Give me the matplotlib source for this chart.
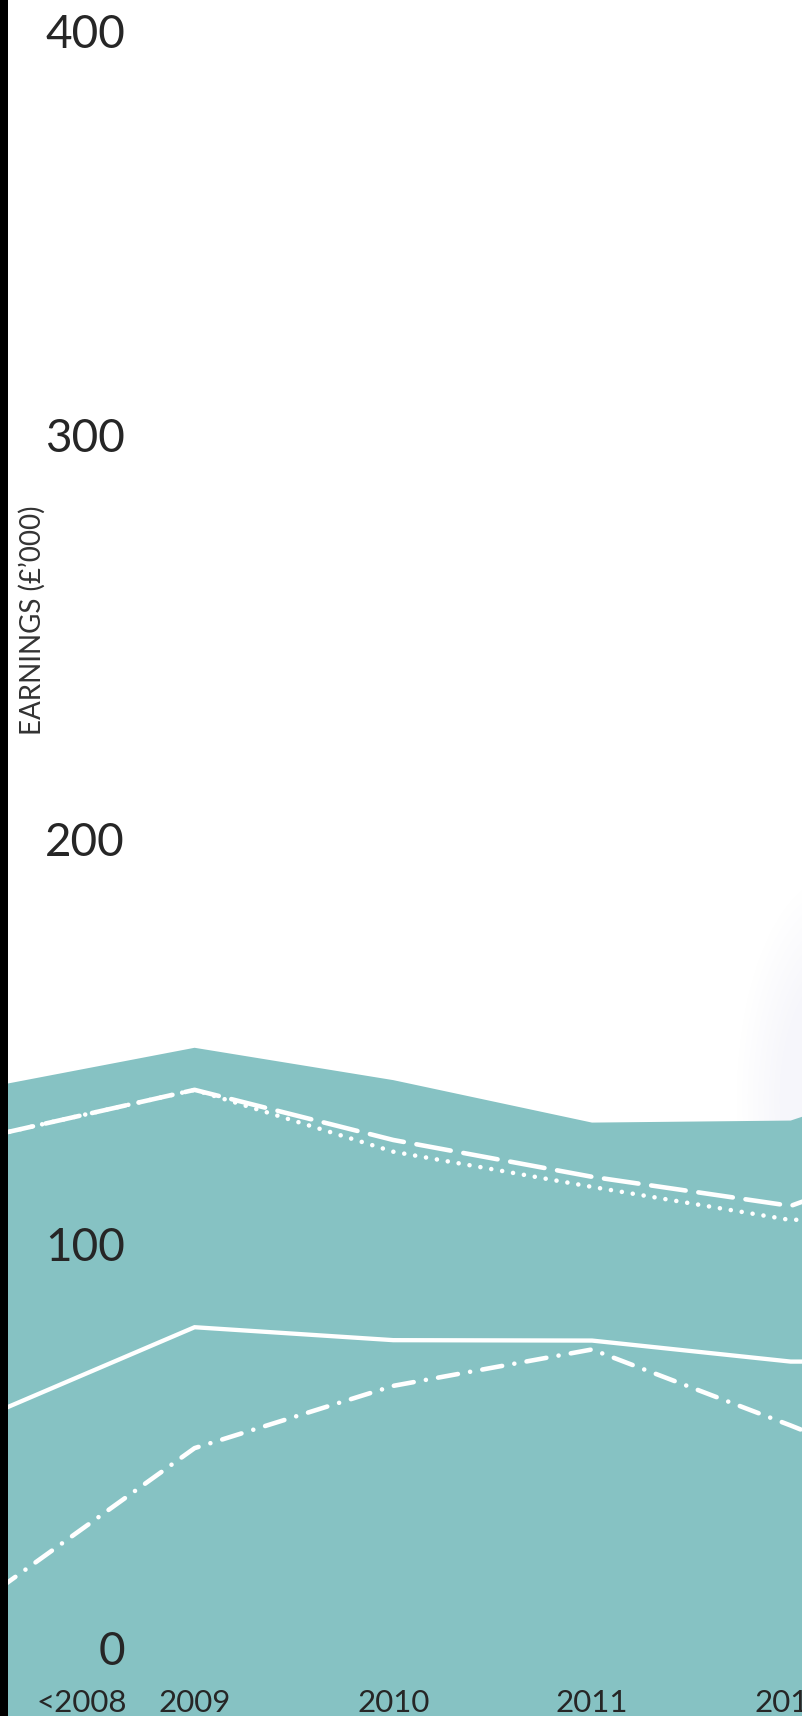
import matplotlib.pyplot as plt
import numpy as np
from matplotlib import transforms

# values (£'000)
years = [2008, 2009, 2010, 2011, 2012, 2013]
year_labels = ['<2008', '2009', '2010', '2011', '2012']
total = [138.9, 148.3, 140.3, 129.8, 130.3, 146.7]
dashed = [126.8, 137.9, 125.5, 116.4, 109.2, 127.0]
dotted = [126.8, 137.9, 122.6, 113.9, 105.7, 108.0]
solid = [58.2, 79.2, 76.0, 75.9, 70.7, 70.7]
dashdot = [14.0, 49.3, 64.7, 73.7, 54.9, 35.2]
yticks = [0, 100, 200, 300, 400]

teal = '#86c2c3'
txt = '#262626'
plt.rcParams['font.family'] = ['Lato', 'DejaVu Sans']

fig = plt.figure(figsize=(8.02, 17.16), dpi=100)
fig.patch.set_facecolor('black')
ax = fig.add_axes([8 / 802, 0, 794 / 802, 1])
ax.set_facecolor('white')
for s in ax.spines.values():
    s.set_visible(False)
ax.set_xticks([])
ax.set_yticks([])

ax.set_xlim(2008.061, 2012.057)
ax.set_ylim(-16.94, 407.4)

# very faint shadow on the right
gx = np.linspace(0, 1, 120)
gy = np.linspace(0, 1, 200)
GX, GY = np.meshgrid(gx, gy)
d = np.sqrt(((GX - 1.3) / 0.8) ** 2 + ((GY - 0.85) / 0.8) ** 2)
alpha = np.clip(1 - d, 0, 1)
img = np.zeros((200, 120, 4))
img[..., 0] = 0.945
img[..., 1] = 0.945
img[..., 2] = 0.975
img[..., 3] = np.clip(alpha * 1.3, 0, 0.55)
ax.imshow(img, extent=[2011.4, 2012.057, 125, 195], origin='upper',
          aspect='auto', zorder=0, interpolation='bilinear')

ax.fill_between(years, total, -20, color=teal, lw=0, zorder=1)

ax.plot(years, solid, color='white', lw=3.1, solid_joinstyle='miter', zorder=3)
ax.plot(years, dashed, color='white', lw=3.3, linestyle=(0, (7.6, 2.8)),
        dash_capstyle='round', zorder=3)
ax.plot(years, dotted, color='white', lw=3.3, linestyle=(0, (0.01, 2.4)),
        dash_capstyle='round', zorder=2)
ax.plot(years, dashdot, color='white', lw=3.3,
        linestyle=(0, (4.4, 2.7, 0.01, 2.7)), dash_capstyle='round', zorder=3)

# y tick labels inside the plot
off = transforms.ScaledTranslation(0, -0.177, fig.dpi_scale_trans)
ytr = transforms.blended_transform_factory(ax.transAxes, ax.transData) + off
for v in yticks:
    ax.text(117 / 794, v, str(v), transform=ytr, ha='right', va='baseline',
            fontsize=33, color=txt, zorder=5)

# x labels along the bottom edge
xoff = transforms.ScaledTranslation(0, 0.04, fig.dpi_scale_trans)
xtr = transforms.blended_transform_factory(ax.transData, ax.transAxes) + xoff
label_x = [2008.43] + years[1:len(year_labels)]
for x, lab in zip(label_x, year_labels):
    ax.text(x, 0, lab, transform=xtr, ha='center', va='baseline',
            fontsize=22.5, color=txt, zorder=5)

fig.text(32 / 802, 1 - 620 / 1716, "EARNINGS (£’000)", rotation=90,
         ha='center', va='center', fontsize=20, color='#333333')

fig.savefig('out.png', dpi=100, facecolor=fig.get_facecolor())
